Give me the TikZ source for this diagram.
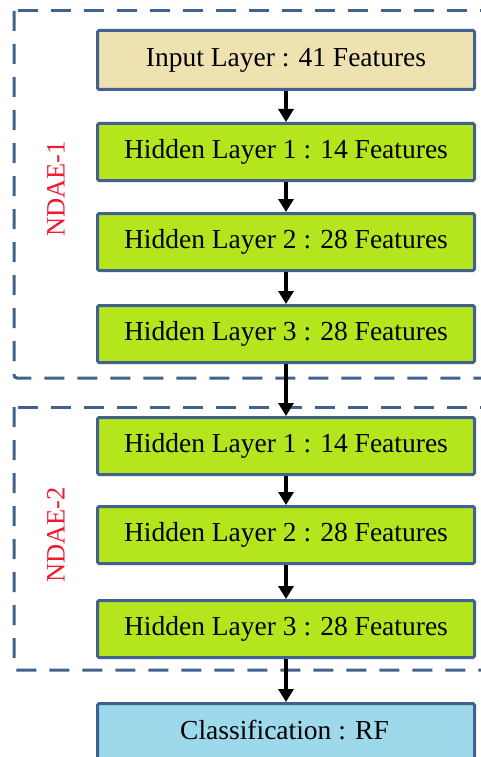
\documentclass[tikz,border=0pt]{standalone}
\usepackage{fontspec}
\setmainfont{Liberation Serif}
\usetikzlibrary{arrows.meta}
\definecolor{edge}{HTML}{41628E}
\definecolor{inputfill}{HTML}{EEE2B0}
\definecolor{greenfill}{HTML}{B5E61D}
\definecolor{bluefill}{HTML}{9DD9EA}
\definecolor{ndaered}{HTML}{F0192E}
\begin{document}
\begin{tikzpicture}[x=1pt,y=-1pt,
  layerbox/.style={draw=edge,line width=3pt,minimum width=377pt,minimum height=57pt,inner sep=0pt,
    font=\fontsize{27.5}{30}\selectfont,anchor=north west,rounded corners=1.5pt},
  groupbox/.style={draw=edge,line width=3pt,dash pattern=on 20pt off 13pt,rounded corners=3pt},
  flow/.style={-{Triangle[length=13pt,width=15pt]},line width=3.2pt,black},
  tag/.style={text=ndaered,rotate=90,font=\fontsize{26.5}{30}\selectfont}]
\useasboundingbox (0,0) rectangle (481,757);
\draw[groupbox] (14,11) -- (14,378) -- (500,378);
\draw[groupbox] (500,11) -- (14,11);
\draw[groupbox] (14,407) -- (14,670) -- (500,670);
\draw[groupbox] (500,407) -- (14,407);
\node[layerbox,fill=inputfill,minimum height=59pt] (in) at (96,29) {Input Layer : 41 Features};
\node[layerbox,fill=greenfill] (a1) at (96,122) {Hidden Layer 1 : 14 Features};
\node[layerbox,fill=greenfill] (a2) at (96,212) {Hidden Layer 2 : 28 Features};
\node[layerbox,fill=greenfill] (a3) at (96,304) {Hidden Layer 3 : 28 Features};
\node[layerbox,fill=greenfill] (b1) at (96,416) {Hidden Layer 1 : 14 Features};
\node[layerbox,fill=greenfill] (b2) at (96,505) {Hidden Layer 2 : 28 Features};
\node[layerbox,fill=greenfill] (b3) at (96,599) {Hidden Layer 3 : 28 Features};
\node[layerbox,fill=bluefill,minimum height=70pt] (cl) at (96,702) {};
\node[font=\fontsize{27.5}{30}\selectfont] (clt) at (284.5,730) {Classification : RF};
\node[tag] (t1) at (56,189) {NDAE-1};
\node[tag] (t2) at (56,535) {NDAE-2};
\draw[flow] (in) -- (a1);
\draw[flow] (a1) -- (a2);
\draw[flow] (a2) -- (a3);
\draw[flow] (a3) -- (b1);
\draw[flow] (b1) -- (b2);
\draw[flow] (b2) -- (b3);
\draw[flow] (b3) -- (cl);
\end{tikzpicture}
\end{document}
